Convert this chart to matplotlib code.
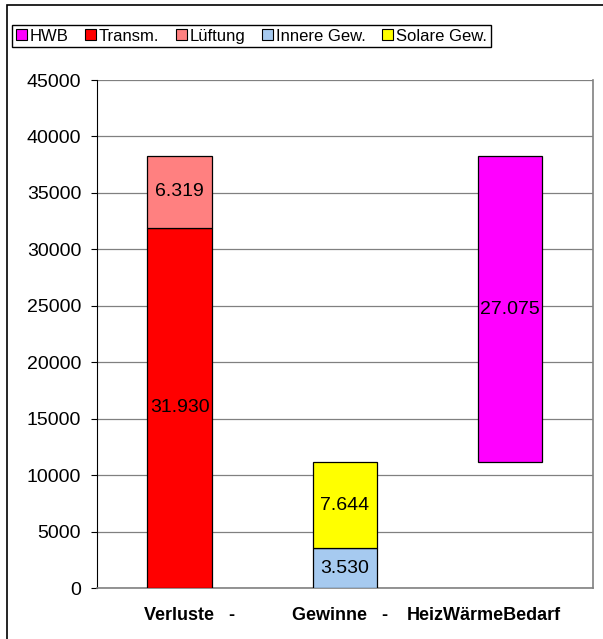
import matplotlib.pyplot as plt
from matplotlib.patches import Rectangle, Patch

plt.rcParams['font.family'] = ['Liberation Sans', 'DejaVu Sans']

categories = ["Verluste   -", "Gewinne   -", "HeizWärmeBedarf"]
label_x = [0.057, 0.97, 1.84]
transm = 31930
lueftung = 6319
innere = 3530
solare = 7644
hwb = 27075
hwb_bottom = innere + solare

fig = plt.figure(figsize=(6.03, 6.39), dpi=100)
ax = fig.add_axes([0.161, 0.0798, 0.822, 0.795])

x = [0, 1, 2]
w = 0.39
ec = 'black'
ax.bar(x[0], transm, w, color='#ff0000', edgecolor=ec, linewidth=0.9, zorder=3)
ax.bar(x[0], lueftung, w, bottom=transm, color='#ff8080', edgecolor=ec, linewidth=0.9, zorder=3)
ax.bar(x[1], innere, w, color='#a6caf0', edgecolor=ec, linewidth=0.9, zorder=3)
ax.bar(x[1], solare, w, bottom=innere, color='#ffff00', edgecolor=ec, linewidth=0.9, zorder=3)
ax.bar(x[2], hwb, w, bottom=hwb_bottom, color='#ff00ff', edgecolor=ec, linewidth=0.9, zorder=3)

def fmt(v):
    return f"{v:,}".replace(",", ".")

fs = 14
ax.text(x[0], transm / 2, fmt(transm), ha='center', va='center', fontsize=fs, zorder=4)
ax.text(x[0], transm + lueftung / 2, fmt(lueftung), ha='center', va='center', fontsize=fs, zorder=4)
ax.text(x[1], innere / 2, fmt(innere), ha='center', va='center', fontsize=fs, zorder=4)
ax.text(x[1], innere + solare / 2, fmt(solare), ha='center', va='center', fontsize=fs, zorder=4)
ax.text(x[2], hwb_bottom + hwb / 2, fmt(hwb), ha='center', va='center', fontsize=fs, zorder=4)

ax.set_xlim(-0.5, 2.5)
ax.set_ylim(0, 45000)
ax.set_yticks(range(0, 45001, 5000))
ax.tick_params(axis='y', labelsize=fs, length=4.5, pad=7, direction='out')
ax.set_xticks([])
for lx, lab in zip(label_x, categories):
    ax.text(lx, -0.055, lab, transform=ax.get_xaxis_transform(), ha='center', va='center',
            fontsize=13, fontweight='bold')
ax.grid(axis='y', color='#808080', linewidth=0.9, zorder=0)
ax.spines['left'].set_color('black')
for s in ['right', 'bottom']:
    ax.spines[s].set_color('#808080')
    ax.spines[s].set_linewidth(1.2)
ax.spines['top'].set_visible(False)

handles = [Patch(facecolor=c, edgecolor='black', linewidth=0.8) for c in
           ['#ff00ff', '#ff0000', '#ff8080', '#a6caf0', '#ffff00']]
labels = ["HWB", "Transm.", "Lüftung", "Innere Gew.", "Solare Gew."]
fig.legend(handles, labels, loc='upper left', bbox_to_anchor=(12 / 603, 1 - 25 / 639), ncol=5,
           fontsize=12, frameon=True, fancybox=False, edgecolor='black',
           handlelength=0.65, handleheight=0.65, handletextpad=0.18, columnspacing=1.0,
           borderpad=0.22, borderaxespad=0, framealpha=1)

fig.patches.append(Rectangle((7 / 603, -0.01), 1.0, 1 - 5 / 639 + 0.01, transform=fig.transFigure,
                             fill=False, edgecolor='black', linewidth=1.2))

fig.savefig('out.png', dpi=100)
